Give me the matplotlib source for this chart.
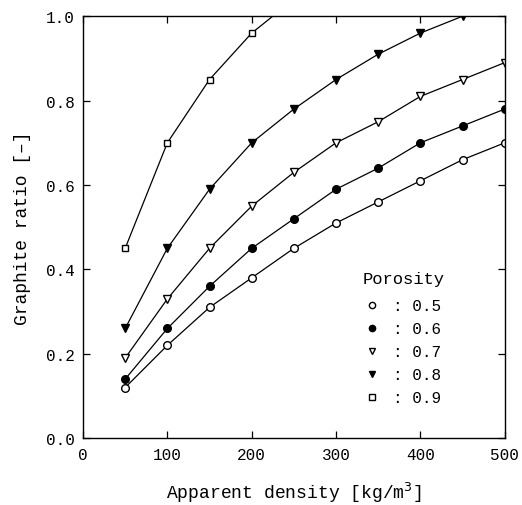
import matplotlib
matplotlib.use("Agg")
import matplotlib.pyplot as plt

plt.rcParams['font.family'] = ['Liberation Mono', 'DejaVu Sans Mono']

density = [50, 100, 150, 200, 250, 300, 350, 400, 450, 500]
por_05 = [0.12, 0.22, 0.31, 0.38, 0.45, 0.51, 0.56, 0.61, 0.66, 0.70]
por_06 = [0.14, 0.26, 0.36, 0.45, 0.52, 0.59, 0.64, 0.70, 0.74, 0.78]
por_07 = [0.19, 0.33, 0.45, 0.55, 0.63, 0.70, 0.75, 0.81, 0.85, 0.89]
density_08 = [50, 100, 150, 200, 250, 300, 350, 400, 450]
por_08 = [0.26, 0.45, 0.59, 0.70, 0.78, 0.85, 0.91, 0.96, 1.00]
density_09 = [50, 100, 150, 200, 250]
por_09 = [0.45, 0.70, 0.85, 0.96, 1.04]

xticks = [0, 100, 200, 300, 400, 500]
yticks = [0.0, 0.2, 0.4, 0.6, 0.8, 1.0]

fig = plt.figure(figsize=(5.22, 5.06), dpi=100)
ax = fig.add_axes([0.159, 0.132, 0.808, 0.834])

ms = 5.5
lw = 0.9
ax.plot(density, por_05, '-', color='black', lw=lw, marker='o', mfc='white', mec='black', ms=ms, label=': 0.5')
ax.plot(density, por_06, '-', color='black', lw=lw, marker='o', mfc='black', mec='black', ms=ms, label=': 0.6')
ax.plot(density, por_07, '-', color='black', lw=lw, marker='v', mfc='white', mec='black', ms=ms, label=': 0.7')
ax.plot(density_08, por_08, '-', color='black', lw=lw, marker='v', mfc='black', mec='black', ms=ms, label=': 0.8')
ax.plot(density_09, por_09, '-', color='black', lw=lw, marker='s', mfc='white', mec='black', ms=ms - 0.5, label=': 0.9')

ax.set_xlim(0, 500)
ax.set_ylim(0, 1.0)
ax.set_xticks(xticks)
ax.set_yticks(yticks)
ax.set_xticklabels([str(v) for v in xticks])
ax.set_yticklabels([f"{v:.1f}" for v in yticks])
ax.tick_params(direction='in', top=True, right=True, length=5, width=0.9, labelsize=11.5, pad=6)
for s in ax.spines.values():
    s.set_linewidth(1.0)

ax.set_xlabel('Apparent density [kg/m$^3$]', fontsize=13, labelpad=13)
ax.set_ylabel('Graphite ratio [\u2013]', fontsize=13, labelpad=11)

ax.text(0.662, 0.379, 'Porosity', transform=ax.transAxes, fontsize=12.3,
        ha='left', va='center')
leg = ax.legend(loc='upper left', bbox_to_anchor=(0.656, 0.347),
                frameon=False, fontsize=11.5,
                handlelength=0.8, handletextpad=0.9, labelspacing=0.5,
                borderaxespad=0)
for h in leg.legend_handles:
    h.set_linestyle('None')
    h.set_markersize(4.5)

fig.savefig('out.png', dpi=100)
